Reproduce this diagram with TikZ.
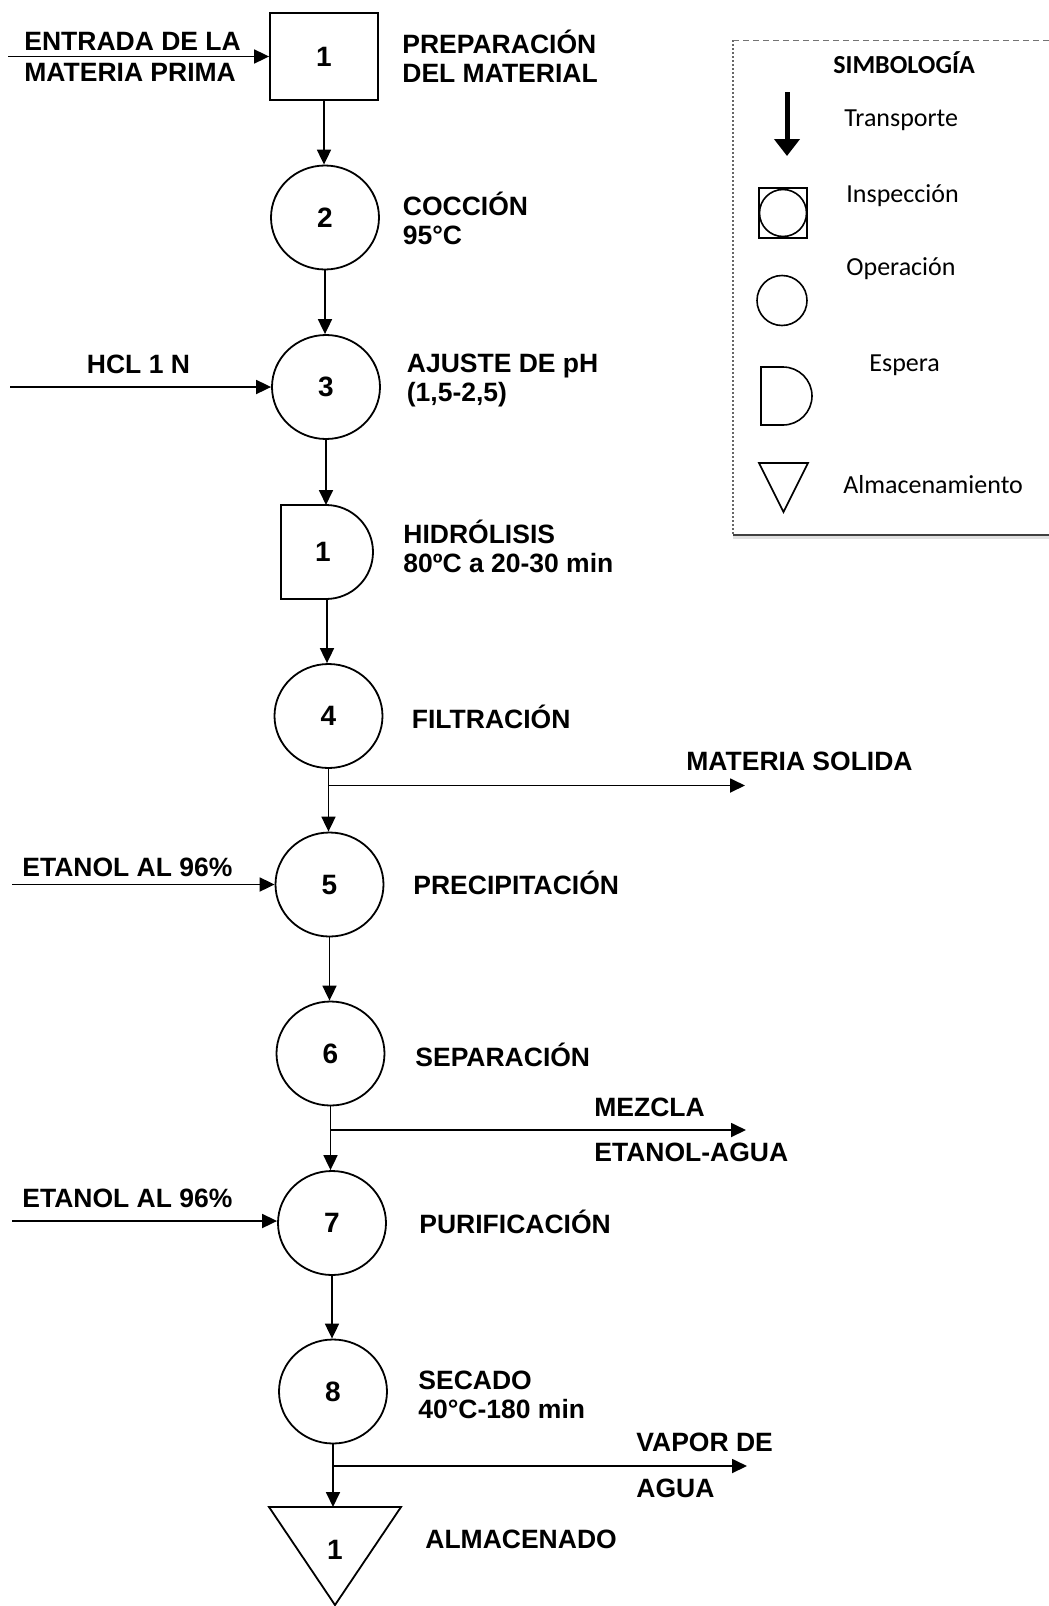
\documentclass[tikz,border=0pt]{standalone}
\usepackage{fontspec}
\setmainfont{Liberation Sans}
\newfontfamily\legfont{Carlito}
\usetikzlibrary{arrows.meta,shapes.geometric}
\begin{document}
\begin{tikzpicture}[x=0.5pt,y=-0.5pt,
  lbl/.style={font=\bfseries\fontsize{13.25}{14.5}\selectfont, anchor=west, align=left, inner sep=0pt},
  opnode/.style={draw, ellipse, line width=0.9pt, minimum width=54pt, minimum height=52pt, inner sep=0pt, font=\bfseries\fontsize{14}{14}\selectfont},
  numlbl/.style={inner sep=0pt, font=\bfseries\fontsize{14}{14}\selectfont},
  flow/.style={line width=0.9pt, -{Triangle[length=7.5pt,width=7pt]}},
  plain/.style={line width=0.9pt},
  leg/.style={font=\legfont\fontsize{13}{15}\selectfont, anchor=west, inner sep=0pt},
  legshape/.style={line width=0.8pt}
]
\useasboundingbox (0,0) rectangle (1049,1606);
\fill[white] (0,0) rectangle (1049,1606);

% ---------- main column ----------
\node[draw, line width=0.9pt, minimum width=54pt, minimum height=43.5pt, inner sep=0pt,
      font=\bfseries\fontsize{14}{14}\selectfont] (n1) at (324,56.5) {1};
\node[opnode] (c2) at (325,217.5) {2};
\node[opnode] (c3) at (326,387) {3};
% espera (D shape)
\draw[plain] (281,505) -- (326,505) arc[start angle=-90,end angle=90,radius=47] -- (281,599) -- cycle;
\node[numlbl] (d1) at (323,552) {1};
\coordinate (dtop) at (326,505);
\coordinate (dbot) at (327,599);
\node[opnode] (c4) at (328.5,716) {4};
\node[opnode] (c5) at (329.5,884.5) {5};
\node[opnode] (c6) at (330.5,1053.5) {6};
\node[opnode] (c7) at (332,1223) {7};
\node[opnode] (c8) at (333,1391.5) {8};
% almacenamiento triangle
\draw[plain] (269,1507) -- (401,1507) -- (335,1605) -- cycle;
\node[numlbl] (t1) at (335,1550) {1};
\coordinate (ttop) at (334,1507);

% vertical flow
\draw[flow] (n1.south) -- (n1.south |- c2.north);
\draw[flow] (c2.south) -- (c2.south |- c3.north);
\draw[flow] (c3.south) -- (c3.south |- dtop);
\draw[flow] (dbot) -- (dbot |- c4.north);
\draw[flow] (c4.south) -- (c4.south |- c5.north);
\draw[flow] (c5.south) -- (c5.south |- c6.north);
\draw[flow] (c6.south) -- (c6.south |- c7.north);
\draw[flow] (c7.south) -- (c7.south |- c8.north);
\draw[flow] (c8.south) -- (c8.south |- ttop);

% inputs
\coordinate (in1) at (8,56.5);
\coordinate (in3) at (10,387);
\coordinate (in5) at (12,884.5);
\coordinate (in7) at (12,1221);
\draw[flow] (in1) -- (n1.west);
\draw[flow] (in3) -- (c3.west);
\draw[flow] (in5) -- (c5.west);
\draw[flow] (in7) -- (c7.west |- in7);

% outputs
\coordinate (b4) at (328.5,785.5);
\coordinate (e4) at (745,785.5);
\coordinate (b6) at (330.5,1130);
\coordinate (e6) at (746,1130);
\coordinate (b8) at (333,1466);
\coordinate (e8) at (747,1466);
\draw[flow] (b4) -- (e4);
\draw[flow] (b6) -- (e6);
\draw[flow] (b8) -- (e8);

% labels
\node[lbl] (tin1) at (24,57) {ENTRADA DE LA\\[1pt]MATERIA PRIMA};
\node[lbl] (l1) at (402,56.5) {PREPARACIÓN\\DEL MATERIAL};
\node[lbl] (l2) at (402.5,218.5) {COCCIÓN\\95°C};
\node[lbl, anchor=center] (tin3) at (138.5,364) {HCL 1 N};
\node[lbl] (l3) at (406.5,380) {AJUSTE DE pH\\(1,5-2,5)};
\node[lbl] (ld) at (403,546.5) {HIDRÓLISIS\\80ºC a 20-30 min};
\node[lbl] (l4) at (411.5,717) {FILTRACIÓN};
\node[lbl] (o4) at (686,761.5) {MATERIA SOLIDA};
\node[lbl] (tin5) at (22,867) {ETANOL AL 96\%};
\node[lbl] (l5) at (413,883) {PRECIPITACIÓN};
\node[lbl] (l6) at (415,1055) {SEPARACIÓN};
\node[lbl] (o6a) at (594,1107) {MEZCLA};
\node[lbl] (o6b) at (594,1152.5) {ETANOL-AGUA};
\node[lbl] (tin7) at (22,1198) {ETANOL AL 96\%};
\node[lbl] (l7) at (419,1222) {PURIFICACIÓN};
\node[lbl] (l8) at (418,1395) {SECADO\\40°C-180 min};
\node[lbl] (o8a) at (636,1442) {VAPOR DE};
\node[lbl] (o8b) at (636,1488) {AGUA};
\node[lbl] (lt) at (425,1539) {ALMACENADO};

% ---------- legend ----------
\draw[densely dotted, line width=1pt, black!60] (733,40) -- (733,535);
\draw[densely dashed, line width=0.5pt, black!55] (733,40) -- (1049,40);
\draw[line width=2pt, black!12] (733,537) -- (1049,537);
\draw[line width=0.8pt, black!75] (733,535) -- (1049,535);
\node[font=\legfont\bfseries\fontsize{13}{15}\selectfont, inner sep=0pt] (leghead) at (904,63) {SIMBOLOGÍA};
\coordinate (ta) at (787,92);
\coordinate (tb) at (787,156);
\draw[line width=2.5pt, -{Triangle[length=8.5pt,width=12.5pt]}] (ta) -- (tb);
\node[leg] (lg1) at (844,120) {Transporte};
\draw[legshape] (759,188) rectangle (807,238);
\draw[legshape] (783,213) circle[radius=23.5];
\node[leg] (lg2) at (846,196) {Inspección};
\draw[legshape] (782,300.5) circle[radius=25];
\node[leg] (lg3) at (846,269) {Operación};
\draw[legshape] (761,367) -- (783,367) arc[start angle=-90,end angle=90,radius=29] -- (761,425) -- cycle;
\node[leg] (lg4) at (869,365) {Espera};
\draw[legshape] (759,463) -- (808,463) -- (783.5,512) -- cycle;
\node[leg] (lg5) at (843,485) {Almacenamiento};
\end{tikzpicture}
\end{document}
